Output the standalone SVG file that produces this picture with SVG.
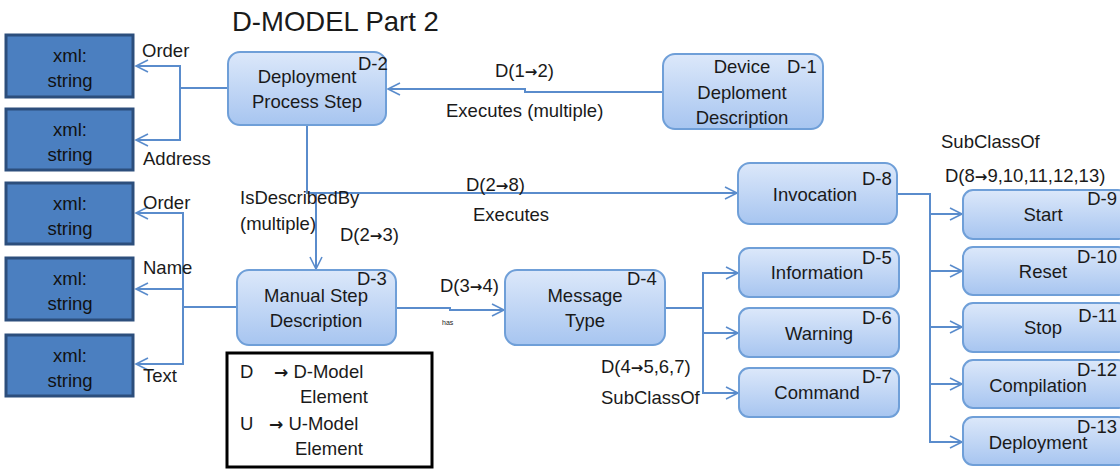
<svg xmlns="http://www.w3.org/2000/svg" width="1120" height="471" viewBox="0 0 1120 471">
<defs>
<linearGradient id="g" x1="0" y1="0" x2="0" y2="1">
<stop offset="0" stop-color="#dce8fa"/>
<stop offset="1" stop-color="#a7c5f0"/>
</linearGradient>
<marker id="a" markerUnits="userSpaceOnUse" markerWidth="16" markerHeight="16" refX="14" refY="8" orient="auto">
<path d="M2,2 L14,8 L2,14" fill="none" stroke="#5a8ccc" stroke-width="1.6"/>
</marker>
</defs>
<style>
text{font-family:"Liberation Sans",Arial,sans-serif;font-size:18.5px;fill:#1a1a1a}
.ar2{font-family:"DejaVu Sans",sans-serif;font-weight:bold;font-size:15px}
.n rect{fill:url(#g);stroke:#6f9fd8;stroke-width:2}
.x rect{fill:#4b7fc0;stroke:#2c4e7c;stroke-width:3}
.c{text-anchor:middle}
.e{text-anchor:end}
.l{fill:none;stroke:#5a8ccc;stroke-width:2}
.ar{marker-end:url(#a)}
</style>
<rect width="1120" height="471" fill="#fff"/>
<text x="232" y="31" style="font-size:27.5px">D-MODEL Part 2</text>

<g id="connectors">
<path class="l ar" d="M228,88 H180 V66 H136"/>
<path class="l ar" d="M180,88 V140 H136"/>
<path class="l ar" d="M663,92 H525 V89 H388"/>
<path class="l ar" d="M307,125 V193 H737"/>
<path class="l ar" d="M316,193 V269"/>
<path class="l ar" d="M237,307 H183 V213 H136"/>
<path class="l ar" d="M183,289 H136"/>
<path class="l ar" d="M183,307 V364 H136"/>
<path class="l ar" d="M396,308 H450 V310 H504"/>
<path class="l ar" d="M665,308 H703 V273 H738"/>
<path class="l ar" d="M703,308 V393 H738"/>
<path class="l ar" d="M703,333 H738"/>
<path class="l ar" d="M897,194 H930 V214 H962"/>
<path class="l ar" d="M930,214 V442 H962"/>
<path class="l ar" d="M930,271 H962"/>
<path class="l ar" d="M930,327 H962"/>
<path class="l ar" d="M930,384 H962"/>
</g>

<g id="labels">
<text x="142" y="57">Order</text>
<text x="143" y="165">Address</text>
<text x="143" y="209">Order</text>
<text x="143" y="274">Name</text>
<text x="143" y="382">Text</text>
<text x="495" y="77">D(1<tspan class="ar2">→</tspan>2)</text>
<text x="446" y="117">Executes (multiple)</text>
<text x="466" y="191">D(2<tspan class="ar2">→</tspan>8)</text>
<text x="473" y="221">Executes</text>
<text x="240" y="204">IsDescribedBy</text>
<text x="240" y="230">(multiple)</text>
<text x="340" y="241">D(2<tspan class="ar2">→</tspan>3)</text>
<text x="440" y="292">D(3<tspan class="ar2">→</tspan>4)</text>
<text x="442" y="325" style="font-size:7px">has</text>
<text x="601" y="373">D(4<tspan class="ar2">→</tspan>5,6,7)</text>
<text x="601" y="404">SubClassOf</text>
<text x="941" y="148">SubClassOf</text>
<text x="945" y="182">D(8<tspan class="ar2">→</tspan>9,10,11,12,13)</text>
</g>

<g id="x1" class="x"><rect x="6" y="35" width="127" height="62"/><text class="c" x="70" y="62" style="fill:#111">xml:</text><text class="c" x="70" y="87" style="fill:#111">string</text></g>
<g id="x2" class="x"><rect x="6" y="109" width="127" height="61"/><text class="c" x="70" y="136" style="fill:#111">xml:</text><text class="c" x="70" y="161" style="fill:#111">string</text></g>
<g id="x3" class="x"><rect x="6" y="183" width="127" height="61"/><text class="c" x="70" y="210" style="fill:#111">xml:</text><text class="c" x="70" y="235" style="fill:#111">string</text></g>
<g id="x4" class="x"><rect x="6" y="258" width="127" height="62"/><text class="c" x="70" y="285" style="fill:#111">xml:</text><text class="c" x="70" y="310" style="fill:#111">string</text></g>
<g id="x5" class="x"><rect x="6" y="335" width="127" height="61"/><text class="c" x="70" y="362" style="fill:#111">xml:</text><text class="c" x="70" y="387" style="fill:#111">string</text></g>

<g id="D1" class="n"><rect x="663" y="54" width="160" height="75" rx="12"/><text class="c" x="742" y="73">Device</text><text class="c" x="742" y="99">Deploment</text><text class="c" x="742" y="124">Description</text><text x="787" y="73">D-1</text></g>
<g id="D2" class="n"><rect x="228" y="52" width="158" height="73" rx="12"/><text class="c" x="307" y="83">Deployment</text><text class="c" x="307" y="108">Process Step</text><text x="358" y="70">D-2</text></g>
<g id="D3" class="n"><rect x="237" y="270" width="159" height="75" rx="12"/><text class="c" x="316" y="302">Manual Step</text><text class="c" x="316" y="327">Description</text><text x="357" y="285">D-3</text></g>
<g id="D4" class="n"><rect x="505" y="270" width="160" height="75" rx="12"/><text class="c" x="585" y="302">Message</text><text class="c" x="585" y="327">Type</text><text x="627" y="285">D-4</text></g>
<g id="D5" class="n"><rect x="739" y="248" width="160" height="49" rx="10"/><text class="c" x="817" y="279">Information</text><text x="862" y="264">D-5</text></g>
<g id="D6" class="n"><rect x="739" y="308" width="160" height="49" rx="10"/><text class="c" x="819" y="340">Warning</text><text x="862" y="324">D-6</text></g>
<g id="D7" class="n"><rect x="739" y="368" width="160" height="49" rx="10"/><text class="c" x="817" y="399">Command</text><text x="862" y="383">D-7</text></g>
<g id="D8" class="n"><rect x="738" y="163" width="159" height="61" rx="12"/><text class="c" x="815" y="201">Invocation</text><text x="862" y="185">D-8</text></g>
<g id="D9" class="n"><rect x="963" y="190" width="165" height="49" rx="10"/><text class="c" x="1043" y="221">Start</text><text class="e" x="1117" y="205">D-9</text></g>
<g id="D10" class="n"><rect x="963" y="247" width="165" height="48" rx="10"/><text class="c" x="1043" y="278">Reset</text><text class="e" x="1117" y="263">D-10</text></g>
<g id="D11" class="n"><rect x="963" y="303" width="165" height="49" rx="10"/><text class="c" x="1043" y="334">Stop</text><text class="e" x="1117" y="322">D-11</text></g>
<g id="D12" class="n"><rect x="963" y="360" width="165" height="48" rx="10"/><text class="c" x="1038" y="392">Compilation</text><text class="e" x="1117" y="376">D-12</text></g>
<g id="D13" class="n"><rect x="963" y="417" width="165" height="48" rx="10"/><text class="c" x="1038" y="449">Deployment</text><text class="e" x="1117" y="433">D-13</text></g>

<g id="legend">
<rect x="227" y="353" width="205" height="114" fill="#fff" stroke="#000" stroke-width="3"/>
<text x="240" y="378">D</text><text x="274" y="378"><tspan class="ar2" style="font-size:17px">→</tspan> D-Model</text>
<text x="300" y="403">Element</text>
<text x="240" y="430">U</text><text x="269" y="430"><tspan class="ar2" style="font-size:17px">→</tspan> U-Model</text>
<text x="295" y="455">Element</text>
</g>
</svg>
